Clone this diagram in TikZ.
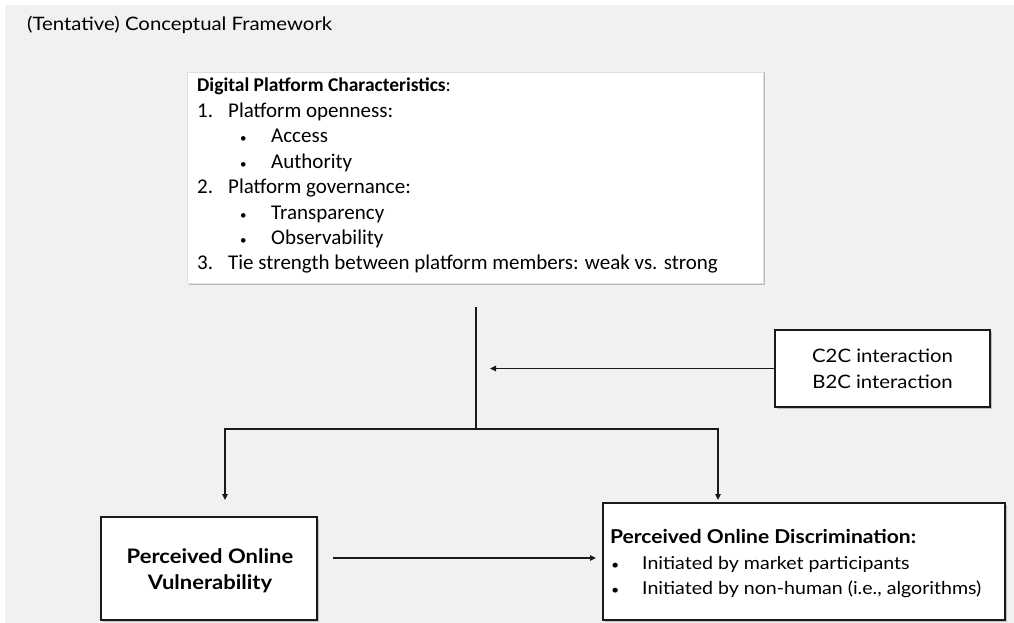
\documentclass[tikz,border=0pt]{standalone}
\usepackage{fontspec}
\setmainfont{Lato}[FakeStretch=1.1]
\newfontfamily\calib{Carlito}
\usetikzlibrary{arrows.meta}

\definecolor{slide}{HTML}{F1F1F1}
\definecolor{ink}{HTML}{1A1A1A}

\newcommand{\dotmark}{{\fontsize{13}{13}\selectfont\textbullet}}

\begin{document}
\begin{tikzpicture}[x=1pt,y=-1pt,
  framebox/.style={draw=ink,line width=1.4pt,fill=white,inner sep=0pt,
    minimum width=#1},
  conn/.style={draw=ink,line width=1.4pt},
  tipped/.style={conn,-{Triangle[length=6pt,width=5.5pt]}},
  listtext/.style={anchor=base west,inner sep=0pt,font=\calib\fontsize{21}{23}\selectfont},
  gill/.style={font=\fontsize{18.5}{26}\selectfont},
  gillsmall/.style={font=\fontsize{17.8}{25}\selectfont},
  gillbold/.style={font=\fontsize{20}{26}\selectfont\bfseries},
]
% page and slide background
\fill[white] (0,0) rectangle (1014,623);
\fill[slide] (5,5) rectangle (1014,623);

% title
\node[anchor=west,inner sep=0pt,font=\fontsize{18.5}{22}\selectfont] (title) at (27,25)
  {(Tentative) Conceptual Framework};

% platform characteristics panel
\fill[gray!55] (188.5,72) rectangle (764.5,285);
\node[draw=gray!25,line width=0.6pt,fill=white,inner sep=0pt,
  minimum width=576pt,minimum height=211pt,anchor=north west] (plat) at (187,72) {};
\node[listtext,font=\calib\fontsize{19.5}{23}\selectfont] (h0) at (197,92)
  {\bfseries Digital Platform Characteristics\mdseries:};
\node[listtext] (n1) at (197,117.4) {1.};
\node[listtext] (t1) at (228,117.4) {Platform openness:};
\node[listtext] (b1) at (240,142.8) {\dotmark};
\node[listtext] (t2) at (271,142.8) {Access};
\node[listtext] (b2) at (240,168.2) {\dotmark};
\node[listtext] (t3) at (271,168.2) {Authority};
\node[listtext] (n2) at (197,193.6) {2.};
\node[listtext] (t4) at (228,193.6) {Platform governance:};
\node[listtext] (b3) at (240,219) {\dotmark};
\node[listtext] (t5) at (271,219) {Transparency};
\node[listtext] (b4) at (240,244.4) {\dotmark};
\node[listtext] (t6) at (271,244.4) {Observability};
\node[listtext] (n3) at (197,269.8) {3.};
\node[listtext] (t7) at (228,269.8) {Tie strength between platform members: weak vs. strong};

% moderator box
\fill[gray!50] (776.5,331.5) rectangle (991.5,408.5);
\node[framebox=215pt,minimum height=77pt,gill,align=center] (inter) at (882.5,368.5)
  {C2C interaction\\B2C interaction};

% outcome boxes
\fill[gray!50] (102.5,518.5) rectangle (318.5,621.5);
\node[framebox=216pt,minimum height=103pt] (vuln) at (209,568.5) {};
\node[gillbold,align=center,inner sep=0pt] (vlabel) at (210,571)
  {Perceived Online\\Vulnerability};

\fill[gray!50] (604.5,504.5) rectangle (1006.5,621.5);
\node[framebox=402pt,minimum height=117pt] (disc) at (804,561.5) {};
\node[anchor=base west,inner sep=0pt,gillbold,font=\fontsize{19.1}{26}\selectfont\bfseries] (d0) at (610,543)
  {Perceived Online Discrimination:};
\node[anchor=base west,inner sep=0pt,gillsmall] (d1) at (611,569) {\dotmark};
\node[anchor=base west,inner sep=0pt,gillsmall] (d2) at (642,569) {Initiated by market participants};
\node[anchor=base west,inner sep=0pt,gillsmall] (d3) at (611,594) {\dotmark};
\node[anchor=base west,inner sep=0pt,gillsmall] (d4) at (642,594) {Initiated by non-human (i.e., algorithms)};

% connector end points
\coordinate (stemtop) at (476,307);
\coordinate (fork) at (476,429);
\coordinate (modtip) at (490,368.5);
\coordinate (vtip) at (225,500);
\coordinate (dtip) at (718,500);
\coordinate (vout) at (333,558);
\coordinate (din) at (596,558);

% connectors
\draw[conn] (stemtop) -- (fork);
\draw[tipped] (inter.west) -- (modtip);
\draw[tipped] (fork) -| (vtip);
\draw[tipped] (fork) -| (dtip);
\draw[tipped] (vout) -- (din);
\end{tikzpicture}
\end{document}
